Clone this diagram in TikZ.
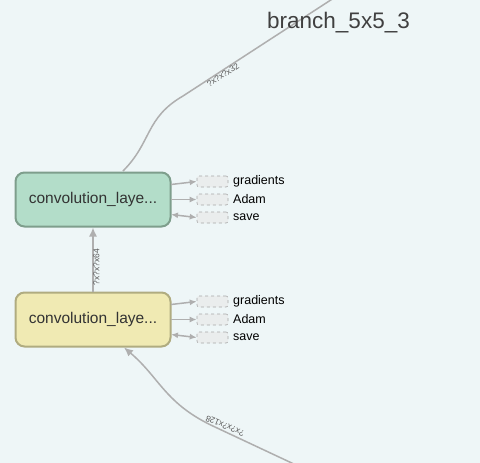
\documentclass[tikz,border=0pt]{standalone}
\usepackage{fontspec}
\setmainfont{Liberation Sans}
\usetikzlibrary{arrows.meta}
\definecolor{bg}{HTML}{EEF6F7}
\definecolor{edgec}{HTML}{AFAFAF}
\definecolor{greenfill}{HTML}{B3DDC9}
\definecolor{greenline}{HTML}{7E9E8C}
\definecolor{yellowfill}{HTML}{F0EAB3}
\definecolor{yellowline}{HTML}{B0AC80}
\definecolor{txt}{HTML}{333333}
\definecolor{smallfill}{HTML}{EAEDED}
\definecolor{smallline}{HTML}{A8A8A8}
\tikzset{
  opnode/.style={rounded corners=9pt, line width=2pt, minimum width=155pt, minimum height=54pt, inner sep=0pt, font=\fontsize{15.5}{15.5}\selectfont, text=txt},
  auxbox/.style={draw=smallline, dashed, fill=smallfill, rounded corners=2pt, minimum width=31pt, minimum height=11pt, inner sep=0pt, line width=0.6pt},
  auxlabel/.style={anchor=west, font=\fontsize{12.5}{12.5}\selectfont, text=black, inner sep=0pt},
  edgeline/.style={draw=edgec, line width=1.5pt},
  smallarrow/.style={draw=edgec, line width=1.5pt, -{Latex[length=7pt,width=6pt]}},
  bigarrow/.style={draw=edgec, line width=1.5pt, -{Latex[length=9pt,width=8pt]}},
  elabel/.style={font=\fontsize{8.5}{8.5}\selectfont, text=black!65, inner sep=0.5pt}
}
\begin{document}
\begin{tikzpicture}[x=1pt,y=-1pt]
\fill[bg] (0,0) rectangle (480,463);
\useasboundingbox (0,0) rectangle (480,463);

% edges first (behind nodes and title)
\coordinate (topend) at (340,-6);
\coordinate (t1) at (123,171);
\draw[edgeline] (t1) .. controls (152,142) and (145,118) .. (183,96) -- (topend);
\node[elabel, rotate=33] (l32) at (223,75) {?x?x?x32};

\node[font=\fontsize{22.5}{22.5}\selectfont, text=black!75, anchor=west, inner sep=0pt] (title) at (267,23) {branch\_5x5\_3};

\node[opnode, draw=greenline, fill=greenfill] (conv1) at (93,199.5) {convolution\_laye...};
\node[opnode, draw=yellowline, fill=yellowfill] (conv2) at (93,319.5) {convolution\_laye...};

% aux boxes for conv1
\node[auxbox] (g1) at (212.5,181.5) {};
\node[auxbox] (a1) at (212.5,199.5) {};
\node[auxbox] (s1) at (212.5,217.5) {};
\node[auxlabel] (g1l) at (233,181.5) {gradients};
\node[auxlabel] (a1l) at (233,199.5) {Adam};
\node[auxlabel] (s1l) at (233,217.5) {save};
% aux boxes for conv2
\node[auxbox] (g2) at (212.5,301.5) {};
\node[auxbox] (a2) at (212.5,319.5) {};
\node[auxbox] (s2) at (212.5,337.5) {};
\node[auxlabel] (g2l) at (233,301.5) {gradients};
\node[auxlabel] (a2l) at (233,319.5) {Adam};
\node[auxlabel] (s2l) at (233,337.5) {save};

\coordinate (c1g) at (171,184.5);
\coordinate (c1a) at (171,199.5);
\coordinate (c1s) at (171,214.5);
\coordinate (c2g) at (171,304.5);
\coordinate (c2a) at (171,319.5);
\coordinate (c2s) at (171,334.5);

\draw[smallarrow] (c1g) -- (g1.west);
\draw[smallarrow] (c1a) -- (a1.west);
\draw[smallarrow, {Latex[length=7pt,width=6pt]}-{Latex[length=7pt,width=6pt]}] (c1s) -- (s1.west);
\draw[smallarrow] (c2g) -- (g2.west);
\draw[smallarrow] (c2a) -- (a2.west);
\draw[smallarrow, {Latex[length=7pt,width=6pt]}-{Latex[length=7pt,width=6pt]}] (c2s) -- (s2.west);

\draw[bigarrow] (conv2.north) -- (conv1.south);
\node[elabel, rotate=90] (l64) at (96.5,267) {?x?x?x64};

\coordinate (botstart) at (296,465);
\coordinate (b1) at (124,347.5);
\draw[bigarrow] (botstart) -- (215,427) .. controls (165,404) and (160,378) .. (b1);
\node[elabel, rotate=157] (l128) at (225,426) {?x?x?x128};
\end{tikzpicture}
\end{document}
